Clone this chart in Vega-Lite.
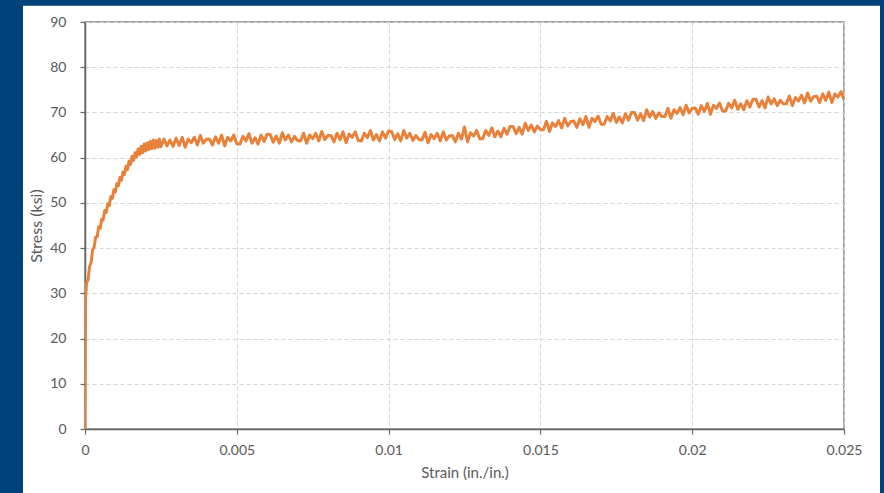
{
  "$schema": "https://vega.github.io/schema/vega-lite/v6.json",
  "width": 759,
  "height": 407,
  "autosize": {"type": "none"},
  "padding": {"left": 85, "top": 22, "right": 40, "bottom": 64},
  "background": "white",
  "config": {
    "font": "Lato",
    "view": {"stroke": "#8a8a8a", "strokeWidth": 1.5},
    "axis": {
      "labelFont": "Lato",
      "labelFontSize": 14,
      "labelColor": "#595959",
      "labelFlush": false,
      "titleFont": "Lato",
      "titleFontSize": 15,
      "titleFontWeight": "normal",
      "titleColor": "#595959",
      "domainColor": "#666666",
      "domainWidth": 1.5,
      "tickColor": "#666666",
      "tickWidth": 1.2,
      "tickSize": 5,
      "gridColor": "#d4d4d4",
      "gridDash": [4, 3],
      "gridWidth": 1
    }
  },
  "layer": [
    {
      "data": {"values": [{}]},
      "mark": {"type": "rect", "color": "#00427A"},
      "encoding": {
        "x": {"datum": -0.004, "type": "quantitative", "scale": {"domain": [0, 0.025], "nice": false, "zero": false}},
        "x2": {"datum": -0.002042},
        "y": {"datum": 100, "type": "quantitative", "scale": {"domain": [0, 90], "nice": false, "zero": false}},
        "y2": {"datum": -20}
      }
    },
    {
      "data": {"values": [{}]},
      "mark": {"type": "rect", "color": "#00427A"},
      "encoding": {
        "x": {"datum": 0.026186, "type": "quantitative"},
        "x2": {"datum": 0.028},
        "y": {"datum": 100, "type": "quantitative"},
        "y2": {"datum": -20}
      }
    },
    {
      "data": {"values": [{}]},
      "mark": {"type": "rect", "color": "#00427A"},
      "encoding": {
        "x": {"datum": -0.004, "type": "quantitative"},
        "x2": {"datum": 0.028},
        "y": {"datum": 100, "type": "quantitative"},
        "y2": {"datum": 93.6}
      }
    },
    {
      "data": {"values": [
        {"strain":0,"stress":0},{"strain":0.00001,"stress":15},{"strain":0.00002,"stress":29},{"strain":0.00005,"stress":32.2},{"strain":0.0001,"stress":33.0},{"strain":0.00015,"stress":35.9},{"strain":0.0002,"stress":36.8},{"strain":0.00025,"stress":39.6},{"strain":0.0003,"stress":40.2},{"strain":0.00035,"stress":42.4},{"strain":0.0004,"stress":42.5},{"strain":0.00045,"stress":44.7},{"strain":0.0005,"stress":44.4},{"strain":0.00055,"stress":46.4},{"strain":0.0006,"stress":46.2},{"strain":0.00065,"stress":48.3},{"strain":0.0007,"stress":47.9},{"strain":0.00075,"stress":49.8},{"strain":0.0008,"stress":49.4},{"strain":0.00085,"stress":51.4},{"strain":0.0009,"stress":51.0},{"strain":0.00095,"stress":52.9},{"strain":0.001,"stress":52.4},{"strain":0.00105,"stress":54.3},{"strain":0.0011,"stress":53.8},{"strain":0.00115,"stress":55.6},{"strain":0.0012,"stress":55.0},{"strain":0.00125,"stress":56.8},{"strain":0.0013,"stress":56.3},{"strain":0.00135,"stress":58.1},{"strain":0.0014,"stress":57.4},{"strain":0.00145,"stress":59.2},{"strain":0.0015,"stress":58.5},{"strain":0.00155,"stress":60.3},{"strain":0.0016,"stress":59.4},{"strain":0.00165,"stress":61.1},{"strain":0.0017,"stress":60.2},{"strain":0.00175,"stress":61.9},{"strain":0.0018,"stress":60.7},{"strain":0.00185,"stress":62.5},{"strain":0.0019,"stress":61.1},{"strain":0.00195,"stress":63.0},{"strain":0.002,"stress":61.5},{"strain":0.00205,"stress":63.3},{"strain":0.0021,"stress":61.8},{"strain":0.00215,"stress":63.6},{"strain":0.0022,"stress":62.0},{"strain":0.00225,"stress":63.9},{"strain":0.0023,"stress":62.1},{"strain":0.00235,"stress":63.8},{"strain":0.0024,"stress":62.3},{"strain":0.00245,"stress":64.1},{"strain":0.0025,"stress":62.4},
        {"strain":0.0026,"stress":64.1},{"strain":0.0027,"stress":62.6},{"strain":0.0028,"stress":63.9},{"strain":0.0029,"stress":62.5},{"strain":0.003,"stress":64.3},
        {"strain":0.0031,"stress":62.7},{"strain":0.0032,"stress":64.5},{"strain":0.0033,"stress":62.3},{"strain":0.0034,"stress":64.1},{"strain":0.0035,"stress":63.3},{"strain":0.0036,"stress":64.5},{"strain":0.0037,"stress":62.8},{"strain":0.0038,"stress":64.9},{"strain":0.0039,"stress":63.2},{"strain":0.004,"stress":64.1},
        {"strain":0.0041,"stress":64.1},{"strain":0.0042,"stress":62.8},{"strain":0.0043,"stress":64.6},{"strain":0.0044,"stress":63.2},{"strain":0.0045,"stress":65.0},{"strain":0.0046,"stress":62.6},{"strain":0.0047,"stress":64.5},{"strain":0.0048,"stress":63.7},{"strain":0.0049,"stress":65.0},{"strain":0.005,"stress":63.1},
        {"strain":0.0051,"stress":63.0},{"strain":0.0052,"stress":64.7},{"strain":0.0053,"stress":63.7},{"strain":0.0054,"stress":65.3},{"strain":0.0055,"stress":63.2},{"strain":0.0056,"stress":64.4},{"strain":0.0057,"stress":63.0},{"strain":0.0058,"stress":65.0},{"strain":0.0059,"stress":63.6},{"strain":0.006,"stress":65.2},
        {"strain":0.0061,"stress":65.1},{"strain":0.0062,"stress":63.4},{"strain":0.0063,"stress":64.8},{"strain":0.0064,"stress":63.2},{"strain":0.0065,"stress":65.5},{"strain":0.0066,"stress":63.9},{"strain":0.0067,"stress":65.0},{"strain":0.0068,"stress":63.5},{"strain":0.0069,"stress":64.7},{"strain":0.007,"stress":63.8},
        {"strain":0.0071,"stress":63.7},{"strain":0.0072,"stress":65.4},{"strain":0.0073,"stress":63.2},{"strain":0.0074,"stress":65.0},{"strain":0.0075,"stress":64.2},{"strain":0.0076,"stress":65.4},{"strain":0.0077,"stress":63.7},{"strain":0.0078,"stress":65.8},{"strain":0.0079,"stress":64.0},{"strain":0.008,"stress":64.9},
        {"strain":0.0081,"stress":64.9},{"strain":0.0082,"stress":63.5},{"strain":0.0083,"stress":65.4},{"strain":0.0084,"stress":64.0},{"strain":0.0085,"stress":65.7},{"strain":0.0086,"stress":63.3},{"strain":0.0087,"stress":65.2},{"strain":0.0088,"stress":64.5},{"strain":0.0089,"stress":65.7},{"strain":0.009,"stress":63.8},
        {"strain":0.0091,"stress":63.7},{"strain":0.0092,"stress":65.4},{"strain":0.0093,"stress":64.4},{"strain":0.0094,"stress":66.0},{"strain":0.0095,"stress":63.9},{"strain":0.0096,"stress":65.1},{"strain":0.0097,"stress":63.7},{"strain":0.0098,"stress":65.7},{"strain":0.0099,"stress":64.3},{"strain":0.01,"stress":65.9},
        {"strain":0.0101,"stress":65.8},{"strain":0.0102,"stress":64.0},{"strain":0.0103,"stress":65.3},{"strain":0.0104,"stress":63.7},{"strain":0.0105,"stress":66.0},{"strain":0.0106,"stress":64.3},{"strain":0.0107,"stress":65.4},{"strain":0.0108,"stress":63.8},{"strain":0.0109,"stress":64.9},{"strain":0.011,"stress":64.0},
        {"strain":0.0111,"stress":63.9},{"strain":0.0112,"stress":65.6},{"strain":0.0113,"stress":63.3},{"strain":0.0114,"stress":65.1},{"strain":0.0115,"stress":64.2},{"strain":0.0116,"stress":65.4},{"strain":0.0117,"stress":63.7},{"strain":0.0118,"stress":65.7},{"strain":0.0119,"stress":63.9},{"strain":0.012,"stress":64.8},
        {"strain":0.0121,"stress":64.9},{"strain":0.0122,"stress":63.5},{"strain":0.0123,"stress":65.4},{"strain":0.0124,"stress":64.1},{"strain":0.0125,"stress":66.8},{"strain":0.0126,"stress":63.5},{"strain":0.0127,"stress":65.5},{"strain":0.0128,"stress":64.8},{"strain":0.0129,"stress":66.0},{"strain":0.013,"stress":64.2},
        {"strain":0.0131,"stress":64.2},{"strain":0.0132,"stress":66.0},{"strain":0.0133,"stress":64.9},{"strain":0.0134,"stress":66.6},{"strain":0.0135,"stress":64.6},{"strain":0.0136,"stress":65.9},{"strain":0.0137,"stress":64.6},{"strain":0.0138,"stress":66.5},{"strain":0.0139,"stress":65.2},{"strain":0.014,"stress":66.9},
        {"strain":0.0141,"stress":66.9},{"strain":0.0142,"stress":65.3},{"strain":0.0143,"stress":66.7},{"strain":0.0144,"stress":65.2},{"strain":0.0145,"stress":67.6},{"strain":0.0146,"stress":66.0},{"strain":0.0147,"stress":67.2},{"strain":0.0148,"stress":65.7},{"strain":0.0149,"stress":67.0},{"strain":0.015,"stress":66.2},
        {"strain":0.0151,"stress":66.2},{"strain":0.0152,"stress":68.0},{"strain":0.0153,"stress":65.8},{"strain":0.0154,"stress":67.7},{"strain":0.0155,"stress":66.9},{"strain":0.0156,"stress":68.2},{"strain":0.0157,"stress":66.6},{"strain":0.0158,"stress":68.7},{"strain":0.0159,"stress":67.0},{"strain":0.016,"stress":68.0},
        {"strain":0.0161,"stress":68.1},{"strain":0.0162,"stress":66.7},{"strain":0.0163,"stress":68.6},{"strain":0.0164,"stress":67.3},{"strain":0.0165,"stress":69.1},{"strain":0.0166,"stress":66.7},{"strain":0.0167,"stress":68.7},{"strain":0.0168,"stress":68.0},{"strain":0.0169,"stress":69.2},{"strain":0.017,"stress":67.4},
        {"strain":0.0171,"stress":67.4},{"strain":0.0172,"stress":69.1},{"strain":0.0173,"stress":68.1},{"strain":0.0174,"stress":69.8},{"strain":0.0175,"stress":67.8},{"strain":0.0176,"stress":69.0},{"strain":0.0177,"stress":67.7},{"strain":0.0178,"stress":69.7},{"strain":0.0179,"stress":68.3},{"strain":0.018,"stress":70.0},
        {"strain":0.0181,"stress":70.0},{"strain":0.0182,"stress":68.3},{"strain":0.0183,"stress":69.7},{"strain":0.0184,"stress":68.2},{"strain":0.0185,"stress":70.6},{"strain":0.0186,"stress":69.0},{"strain":0.0187,"stress":70.2},{"strain":0.0188,"stress":68.7},{"strain":0.0189,"stress":69.9},{"strain":0.019,"stress":69.1},
        {"strain":0.0191,"stress":69.1},{"strain":0.0192,"stress":70.9},{"strain":0.0193,"stress":68.7},{"strain":0.0194,"stress":70.6},{"strain":0.0195,"stress":69.8},{"strain":0.0196,"stress":71.1},{"strain":0.0197,"stress":69.5},{"strain":0.0198,"stress":71.6},{"strain":0.0199,"stress":69.9},{"strain":0.02,"stress":70.9},
        {"strain":0.0201,"stress":71.0},{"strain":0.0202,"stress":69.6},{"strain":0.0203,"stress":71.5},{"strain":0.0204,"stress":70.2},{"strain":0.0205,"stress":72.0},{"strain":0.0206,"stress":69.6},{"strain":0.0207,"stress":71.6},{"strain":0.0208,"stress":70.9},{"strain":0.0209,"stress":72.1},{"strain":0.021,"stress":70.3},
        {"strain":0.0211,"stress":70.3},{"strain":0.0212,"stress":72.0},{"strain":0.0213,"stress":71.0},{"strain":0.0214,"stress":72.7},{"strain":0.0215,"stress":70.7},{"strain":0.0216,"stress":71.9},{"strain":0.0217,"stress":70.6},{"strain":0.0218,"stress":72.6},{"strain":0.0219,"stress":71.2},{"strain":0.022,"stress":72.9},
        {"strain":0.0221,"stress":72.9},{"strain":0.0222,"stress":71.2},{"strain":0.0223,"stress":72.6},{"strain":0.0224,"stress":71.0},{"strain":0.0225,"stress":73.4},{"strain":0.0226,"stress":71.9},{"strain":0.0227,"stress":73.0},{"strain":0.0228,"stress":71.5},{"strain":0.0229,"stress":72.7},{"strain":0.023,"stress":71.9},
        {"strain":0.0231,"stress":71.9},{"strain":0.0232,"stress":73.6},{"strain":0.0233,"stress":71.5},{"strain":0.0234,"stress":73.3},{"strain":0.0235,"stress":72.5},{"strain":0.0236,"stress":73.8},{"strain":0.0237,"stress":72.1},{"strain":0.0238,"stress":74.3},{"strain":0.0239,"stress":72.5},{"strain":0.024,"stress":73.5},
        {"strain":0.0241,"stress":73.6},{"strain":0.0242,"stress":72.2},{"strain":0.0243,"stress":74.1},{"strain":0.0244,"stress":72.7},{"strain":0.0245,"stress":74.5},{"strain":0.0246,"stress":72.2},{"strain":0.0247,"stress":74.1},{"strain":0.0248,"stress":73.4},{"strain":0.0249,"stress":74.6},{"strain":0.025,"stress":72.8}
      ]},
      "mark": {"type": "line", "color": "#E8823A", "strokeWidth": 3, "strokeJoin": "round", "clip": true},
      "encoding": {
        "x": {
          "field": "strain",
          "type": "quantitative",
          "scale": {"domain": [0, 0.025], "nice": false, "zero": false},
          "axis": {
            "title": "Strain (in./in.)",
            "values": [0, 0.005, 0.01, 0.015, 0.02, 0.025],
            "format": "~f",
            "labelPadding": 9,
            "titlePadding": 8,
            "grid": true
          }
        },
        "y": {
          "field": "stress",
          "type": "quantitative",
          "scale": {"domain": [0, 90], "nice": false, "zero": false},
          "axis": {
            "title": "Stress (ksi)",
            "values": [0, 10, 20, 30, 40, 50, 60, 70, 80, 90],
            "labelPadding": 14,
            "titlePadding": 5,
            "titleFontSize": 16,
            "grid": true
          }
        }
      }
    }
  ]
}
